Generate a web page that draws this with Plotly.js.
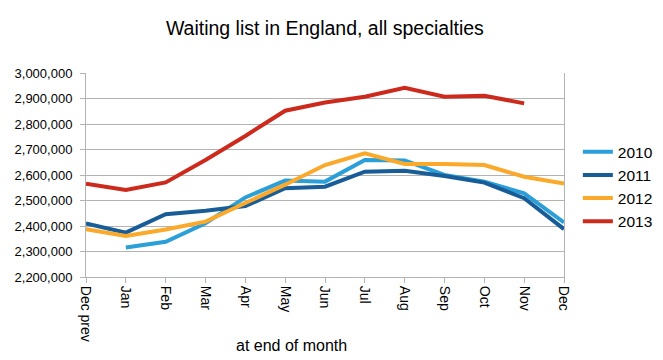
<!DOCTYPE html>
<html>
<head>
<meta charset="utf-8">
<script src="https://cdn.plot.ly/plotly-3.0.1.min.js"></script>
<style>html,body{margin:0;padding:0;background:#fff;}#chart{width:663px;height:360px;}</style>
</head>
<body>
<div id="chart"></div>
<script>
var months = ["Dec prev","Jan","Feb","Mar","Apr","May","Jun","Jul","Aug","Sep","Oct","Nov","Dec"];
var y2010 = [null, 2316000, 2338000, 2411000, 2512000, 2578000, 2574000, 2659000, 2657000, 2600000, 2574000, 2528000, 2414000];
var y2011 = [2410000, 2374000, 2446000, 2460000, 2478000, 2548000, 2554000, 2613000, 2617000, 2596000, 2570000, 2509000, 2388000];
var y2012 = [2387000, 2361000, 2386000, 2417000, 2490000, 2562000, 2639000, 2685000, 2643000, 2643000, 2639000, 2593000, 2567000];
var y2013 = [2566000, 2541000, 2571000, 2659000, 2753000, 2852000, 2884000, 2907000, 2942000, 2907000, 2911000, 2881000, null];
var seriesNames = ["2010","2011","2012","2013"];
var colors = ["#2a9fd8","#185c98","#fba92a","#cd2a1e"];
var yTickVals = [2200000,2300000,2400000,2500000,2600000,2700000,2800000,2900000,3000000];
var yTickText = ["2,200,000","2,300,000","2,400,000","2,500,000","2,600,000","2,700,000","2,800,000","2,900,000","3,000,000"];

var all = [y2010, y2011, y2012, y2013];
var traces = all.map(function(v, i){
  return {x: months, y: v, type: "scatter", mode: "lines", name: seriesNames[i],
          line: {color: colors[i], width: 4}, connectgaps: false};
});

var font = "Liberation Sans, Arial, sans-serif";
var layout = {
  width: 663, height: 360,
  margin: {l: 86, r: 99, t: 73, b: 83, autoexpand: false},
  paper_bgcolor: "#fff", plot_bgcolor: "#fff",
  font: {family: font, color: "#000", size: 13},
  title: {text: "Waiting list in England, all specialties", font: {size: 19.5, family: font, color: "#000"},
          x: 0.49, xanchor: "center", y: 0.922, yanchor: "middle"},
  xaxis: {type: "category", range: [0, 12], tickangle: 90, ticks: "outside", ticklen: 5,
          tickcolor: "#b3b3b3", showgrid: false, showline: true, linecolor: "#b3b3b3", linewidth: 1,
          mirror: false, zeroline: false, tickfont: {size: 14}, fixedrange: true, automargin: false},
  yaxis: {range: [2200000, 3000000], tickvals: yTickVals, ticktext: yTickText, ticks: "outside",
          ticklen: 5, tickcolor: "#b3b3b3", showgrid: true, gridcolor: "#b3b3b3", gridwidth: 1,
          showline: true, linecolor: "#b3b3b3", linewidth: 1, mirror: true, zeroline: false,
          ticklabelstandoff: 5, tickfont: {size: 13}, fixedrange: true, automargin: false},
  showlegend: true,
  legend: {x: 1.029, y: 0.695, xanchor: "left", yanchor: "top", font: {size: 15.5}, tracegroupgap: 0,
           itemwidth: 30, bgcolor: "rgba(0,0,0,0)"},
  annotations: [{text: "at end of month", xref: "paper", yref: "paper", x: 0.43, y: -0.335,
                 xanchor: "center", yanchor: "middle", showarrow: false, font: {size: 16}}]
};
Plotly.newPlot("chart", traces, layout, {displayModeBar: false, staticPlot: true});
</script>
</body>
</html>
